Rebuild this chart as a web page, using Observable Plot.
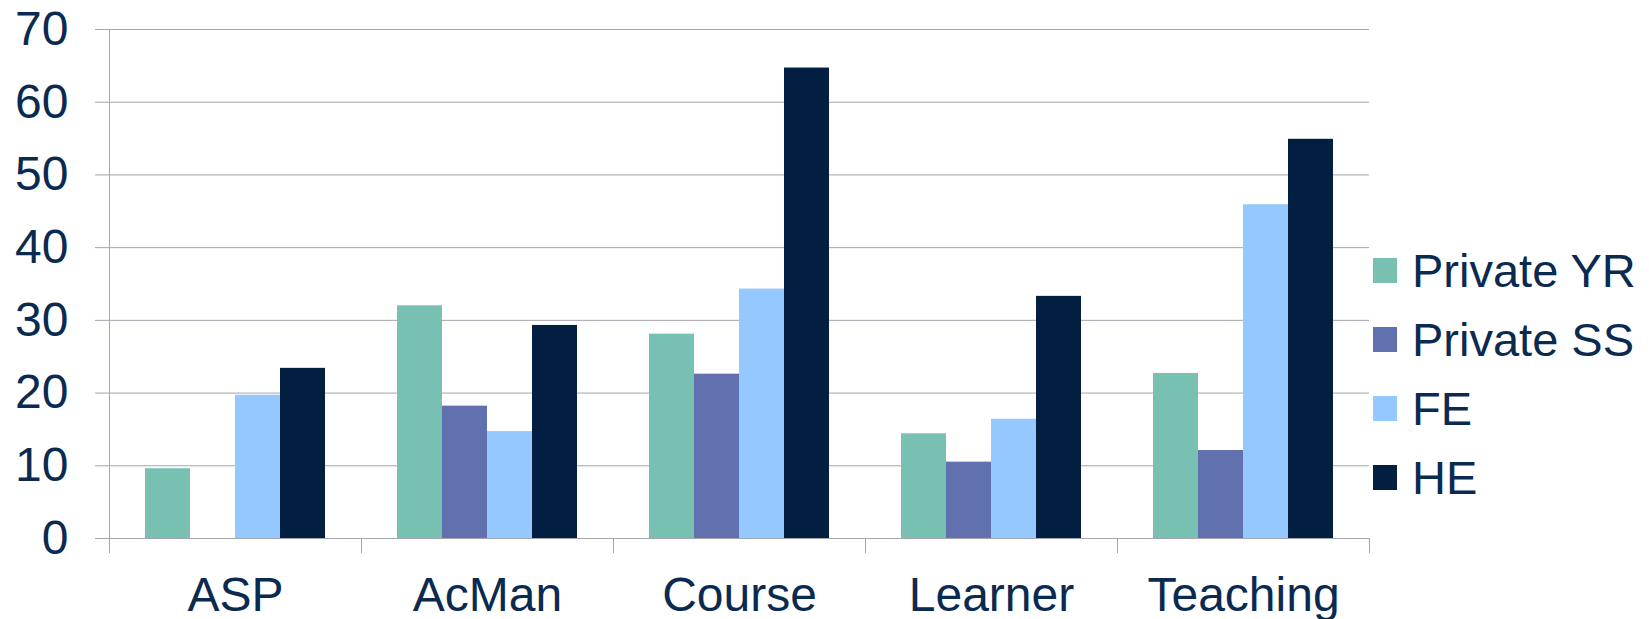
<!DOCTYPE html>
<html>
<head>
<meta charset="utf-8">
<script src="https://cdn.jsdelivr.net/npm/d3@7"></script>
<script src="https://cdn.jsdelivr.net/npm/@observablehq/plot@0.6"></script>
<style>
  html, body { margin: 0; padding: 0; background: #ffffff; }
  #wrap { position: relative; width: 1649px; height: 619px; overflow: hidden; }
  #legend { position: absolute; left: 1373px; top: 236px; font-family: "Liberation Sans", Arial, sans-serif; font-size: 47px; color: #0b2a50; }
  .row { display: flex; align-items: center; height: 69px; line-height: 69px; white-space: nowrap; }
  .sw { width: 24px; height: 25px; margin-right: 15px; flex: none; }
</style>
</head>
<body>
<div id="wrap"><div id="legend"></div></div>
<script>
const categories = ["ASP", "AcMan", "Course", "Learner", "Teaching"];
const series = ["Private YR", "Private SS", "FE", "HE"];
const privateYR = [9.6, 32.0, 28.1, 14.4, 22.7];
const privateSS = [0, 18.2, 22.6, 10.5, 12.1];
const fe = [19.7, 14.7, 34.3, 16.4, 45.9];
const he = [23.4, 29.3, 64.7, 33.3, 54.9];
const yTicks = [0, 10, 20, 30, 40, 50, 60, 70];
const colors = ["#78c0b2", "#6170ae", "#95c8fe", "#021f41"];

const navy = "#0b2a50";
const gray = "#a4a6ae";

const valuesBySeries = [privateYR, privateSS, fe, he];
const rows = [];
categories.forEach((c, i) => {
  series.forEach((s, j) => {
    rows.push({category: c, series: s, value: valuesBySeries[j][i]});
  });
});

const W = 1649, H = 619, mT = 29, mB = 81, mL = 107, mR = 278;

const chart = Plot.plot({
  width: W,
  height: H,
  marginTop: mT,
  marginBottom: mB,
  marginLeft: mL,
  marginRight: mR,
  style: {fontFamily: "'Liberation Sans', Arial, sans-serif", fontSize: "48px", color: navy, background: "transparent", overflow: "visible"},
  fx: {domain: categories, padding: 0, label: null},
  x: {domain: series, paddingInner: 0, paddingOuter: 0.75, axis: null},
  y: {domain: [0, 70], label: null},
  color: {domain: series, range: colors},
  marks: [
    Plot.gridY(yTicks, {stroke: gray, strokeOpacity: 1}),
    Plot.frame({anchor: "left", facetAnchor: "left", stroke: gray, strokeOpacity: 1, insetBottom: -14}),
    Plot.frame({anchor: "left", stroke: gray, strokeOpacity: 1, insetTop: H - mT - mB, insetBottom: -14}),
    Plot.frame({anchor: "right", stroke: gray, strokeOpacity: 1, insetTop: H - mT - mB, insetBottom: -14}),
    Plot.barY(rows, {fx: "category", x: "series", y: "value", fill: "series"}),
    Plot.axisY(yTicks, {tickSize: 14, tickPadding: 27, stroke: gray, fill: navy, label: null}),
    Plot.axisFx({anchor: "bottom", tickSize: 0, tickPadding: 38, fill: navy, label: null})
  ]
});

document.getElementById("wrap").prepend(chart);
chart.style.position = "absolute";
chart.style.left = "0px";
chart.style.top = "0px";

const legend = document.getElementById("legend");
series.forEach((s, i) => {
  const row = document.createElement("div");
  row.className = "row";
  const sw = document.createElement("span");
  sw.className = "sw";
  sw.style.background = colors[i];
  const label = document.createElement("span");
  label.textContent = s;
  row.appendChild(sw);
  row.appendChild(label);
  legend.appendChild(row);
});
</script>
</body>
</html>
